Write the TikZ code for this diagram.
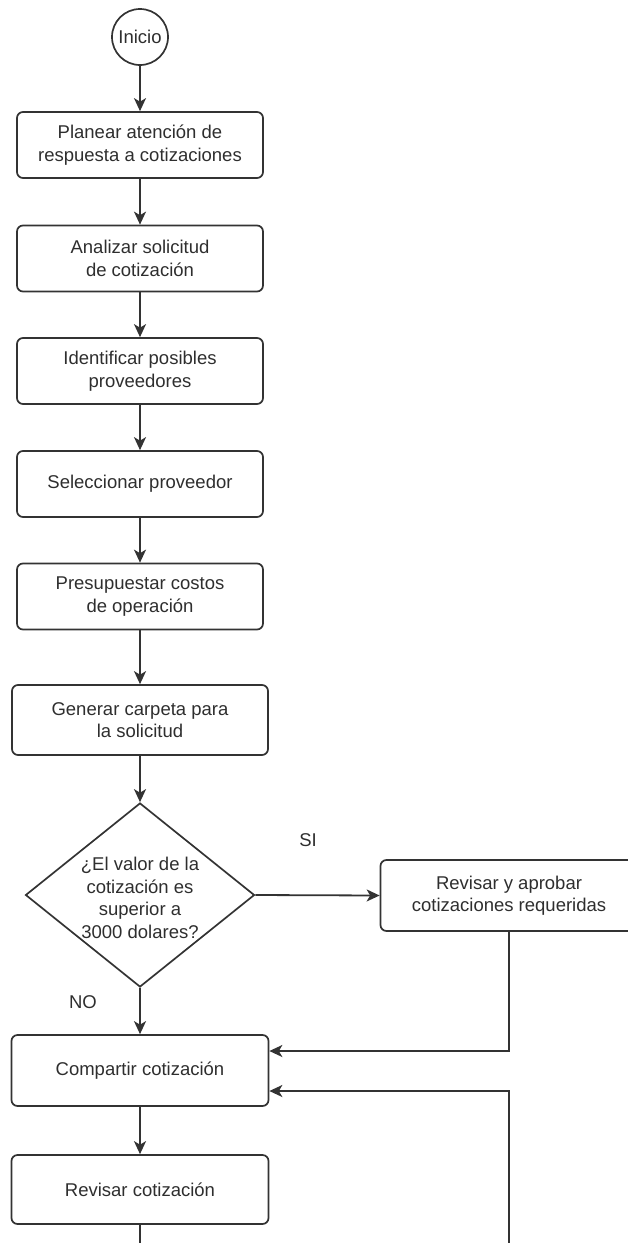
\documentclass[tikz,border=0pt]{standalone}
\usepackage{fontspec}
\setmainfont{Liberation Sans}
\usetikzlibrary{shapes.geometric,arrows.meta,calc}
\definecolor{linec}{HTML}{333333}
\definecolor{textc}{HTML}{2E2E2E}
\tikzset{
  proc/.style={draw=linec, line width=1.7pt, rounded corners=6pt, align=center,
    minimum width=246pt, minimum height=66pt, inner sep=0pt, text=textc,
    font=\fontsize{18.5}{22.5}\selectfont},
  startnode/.style={draw=linec, line width=1.7pt, circle, minimum size=56pt, inner sep=0pt,
    text=textc, font=\fontsize{18.5}{22.5}\selectfont},
  decision/.style={draw=linec, line width=1.7pt, diamond, inner sep=0pt,
    minimum width=229pt, minimum height=184pt},
  lbl/.style={text=textc, align=center, inner sep=0pt, font=\fontsize{18.5}{22.5}\selectfont},
  conn/.style={draw=linec, line width=1.8pt, -{Stealth[length=13pt,width=12pt,inset=3.5pt]}},
  plain/.style={draw=linec, line width=1.8pt}
}
\begin{document}
\begin{tikzpicture}[x=1pt,y=-1pt]
\useasboundingbox (0,0) rectangle (628,1243);
\node[startnode] (ini) at (140,37) {Inicio};
\node[proc] (b1) at (140,145) {Planear atención de\\respuesta a cotizaciones};
\node[proc] (b2) at (140,258.5) {Analizar solicitud\\de cotización};
\node[proc] (b3) at (140,371) {Identificar posibles\\proveedores};
\node[proc] (b4) at (140,484) {Seleccionar proveedor};
\node[proc] (b5) at (140,596.5) {Presupuestar costos\\de operación};
\node[proc, minimum width=256pt, minimum height=70pt] (b6) at (140,720) {Generar carpeta para\\la solicitud};
\node[decision] (dec) at (140,895) {};
\node[lbl] (dectext) at (140,898) {¿El valor de la\\cotización es\\superior a\\3000 dolares?};
\node[proc, minimum width=257pt, minimum height=71pt] (rev) at (509,895.5) {Revisar y aprobar\\cotizaciones requeridas};
\node[proc, minimum width=257pt, minimum height=71pt] (comp) at (140,1070.5) {Compartir cotización};
\node[proc, minimum width=257pt, minimum height=69pt] (revc) at (140,1189.5) {Revisar cotización};
\node[lbl] (si) at (308,840) {SI};
\node[lbl] (no) at (83,1002) {NO};
\coordinate (loopin) at (509,1243);
\coordinate (exit) at (140,1243);

\draw[conn] (ini) -- (b1);
\draw[conn] (b1) -- (b2);
\draw[conn] (b2) -- (b3);
\draw[conn] (b3) -- (b4);
\draw[conn] (b4) -- (b5);
\draw[conn] (b5) -- (b6);
\draw[conn] (b6) -- (dec.north);
\draw[conn] (dec.east) -- (rev.west);
\draw[conn] (dec.south) -- (comp.north);
\draw[conn] (rev.south) |- ($(comp.east)+(0,-19.5)$);
\draw[conn] (loopin) |- ($(comp.east)+(0,20.5)$);
\draw[conn] (comp) -- (revc);
\draw[plain] (revc.south) -- (exit);
\end{tikzpicture}
\end{document}
